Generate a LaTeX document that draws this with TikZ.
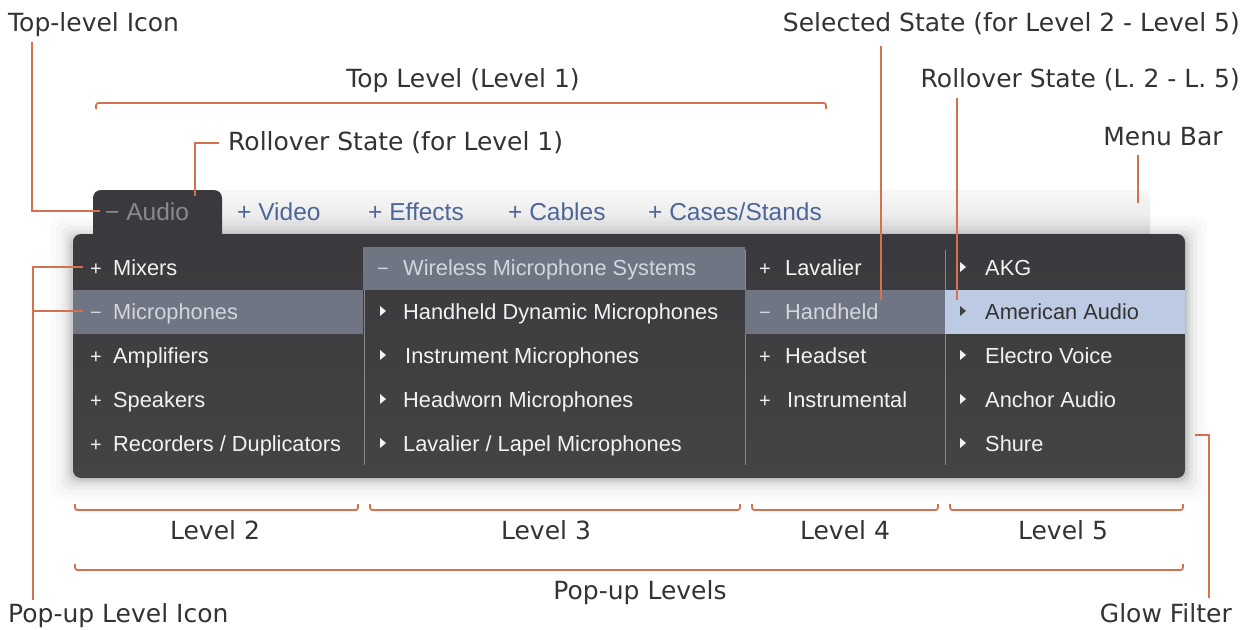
\documentclass[tikz,border=0pt]{standalone}
\usepackage{fontspec}
\newfontfamily\lblfont{DejaVu Sans}
\newfontfamily\menufont{Liberation Sans}
\definecolor{annot}{HTML}{D4714E}
\definecolor{lbltext}{HTML}{333333}
\definecolor{panel}{HTML}{3A3A3E}
\definecolor{panelbot}{HTML}{444446}
\definecolor{hlgray}{HTML}{6F7582}
\definecolor{hlblue}{HTML}{BCCBE3}
\definecolor{tabblue}{HTML}{4D6699}
\definecolor{itemtext}{HTML}{F2F2F2}
\definecolor{seltext}{HTML}{D2D6DE}
\definecolor{audiotext}{HTML}{8A8A8E}
\tikzset{
  lbl/.style={font=\lblfont\fontsize{25}{29}\selectfont, text=lbltext, inner sep=0pt},
  tabitem/.style={font=\menufont\fontsize{24.5}{28}\selectfont, text=tabblue, inner sep=0pt, anchor=base west},
  item/.style={font=\menufont\fontsize{21.8}{25}\selectfont, text=itemtext, inner sep=0pt, anchor=base west},
  selitem/.style={item, text=seltext},
  darkitem/.style={item, text=black!80},
  mk/.style={font=\menufont\fontsize{20}{24}\selectfont, text=itemtext, inner sep=0pt, anchor=base},
  conn/.style={draw=annot, line width=1.8pt},
  brk/.style={draw=annot, line width=1.8pt},
  sep/.style={draw=white!40!panel, line width=0.8pt},
}
\newcommand{\tri}[3]{\fill[#3] (#1-3,#2-5) -- (#1+3,#2) -- (#1-3,#2+5) -- cycle;}
\begin{document}
\begin{tikzpicture}[x=1pt,y=-1pt]
\useasboundingbox (0,0) rectangle (1257,629);
\fill[white] (0,0) rectangle (1257,629);

% menu bar band
\shade[top color=gray!6, bottom color=gray!22, rounded corners=6pt] (215,190) rectangle (1150,240);
% glow around panel
\foreach \g/\o in {22/0.015,17/0.02,12/0.03,8/0.04,5/0.05,3/0.06}{
  \fill[black, opacity=\o, rounded corners=10pt] (73-\g,234-\g+4) rectangle (1185+\g,478+\g);
}
% tab and panel
\fill[panel, rounded corners=8pt] (93,235) -- (93,190) -- (222,190) -- (222,245) -- (93,245) -- cycle;
\shade[top color=panel, bottom color=panelbot, rounded corners=8pt] (73,234) rectangle (1185,478);

% highlight bands
\fill[hlgray] (363,247) rectangle (745,290);
\fill[hlgray] (73,290) rectangle (363,334);
\fill[hlgray] (745,290) rectangle (945,334);
\fill[hlblue] (945,290) rectangle (1185,334);

% separators
\draw[sep] (364,290) -- (364,465);
\draw[sep] (745,250) -- (745,290) (745,334) -- (745,465);
\draw[sep] (945,250) -- (945,290) (945,334) -- (945,465);

% tabs
\node[tabitem, text=audiotext] (audio) at (105,220) {\textminus\ Audio};
\node[tabitem] (video) at (237,220) {+ Video};
\node[tabitem] (effects) at (368,220) {+ Effects};
\node[tabitem] (cables) at (508,220) {+ Cables};
\node[tabitem] (cases) at (648,220) {+ Cases/Stands};

% column 1
\node[mk] (m11) at (96,275) {+};
\node[item] (mixers) at (113,275) {Mixers};
\node[mk, text=seltext] (m12) at (96,319) {\textminus};
\node[selitem] (micro) at (113,319) {Microphones};
\node[mk] (m13) at (96,363) {+};
\node[item] (amps) at (113,363) {Amplifiers};
\node[mk] (m14) at (96,407) {+};
\node[item] (speak) at (113,407) {Speakers};
\node[mk] (m15) at (96,451) {+};
\node[item] (recs) at (113,451) {Recorders / Duplicators};

% column 2
\node[mk, text=seltext] (m21) at (383,275) {\textminus};
\node[selitem] (wireless) at (403,275) {Wireless Microphone Systems};
\tri{383}{311}{itemtext}
\node[item] (hdm) at (403,319) {Handheld Dynamic Microphones};
\tri{383}{355}{itemtext}
\node[item] (inst) at (405,363) {Instrument Microphones};
\tri{383}{399}{itemtext}
\node[item] (head) at (403,407) {Headworn Microphones};
\tri{383}{443}{itemtext}
\node[item] (lav) at (403,451) {Lavalier / Lapel Microphones};

% column 3
\node[mk] (m31) at (765,275) {+};
\node[item] (lavalier) at (785,275) {Lavalier};
\node[mk, text=seltext] (m32) at (765,319) {\textminus};
\node[selitem] (handheld) at (785,319) {Handheld};
\node[mk] (m33) at (765,363) {+};
\node[item] (headset) at (785,363) {Headset};
\node[mk] (m34) at (765,407) {+};
\node[item] (instr) at (787,407) {Instrumental};

% column 4
\tri{963}{267}{itemtext}
\node[item] (akg) at (985,275) {AKG};
\tri{963}{311}{black!75}
\node[darkitem] (amer) at (985,319) {American Audio};
\tri{963}{355}{itemtext}
\node[item] (ev) at (985,363) {Electro Voice};
\tri{963}{399}{itemtext}
\node[item] (anchor) at (985,407) {Anchor Audio};
\tri{963}{443}{itemtext}
\node[item] (shure) at (985,451) {Shure};

% labels
\node[lbl, anchor=base west] (ltop) at (8,31) {Top-level Icon};
\node[lbl, anchor=base] (llev1) at (463,87) {Top Level (Level 1)};
\node[lbl, anchor=base west] (lroll1) at (228,150) {Rollover State (for Level 1)};
\node[lbl, anchor=base east] (lsel) at (1240,31) {Selected State (for Level 2 - Level 5)};
\node[lbl, anchor=base east] (lroll2) at (1240,87) {Rollover State (L. 2 - L. 5)};
\node[lbl, anchor=base] (lmenubar) at (1163,145) {Menu Bar};
\node[lbl, anchor=base] (l2) at (215,539) {Level 2};
\node[lbl, anchor=base] (l3) at (546,539) {Level 3};
\node[lbl, anchor=base] (l4) at (845,539) {Level 4};
\node[lbl, anchor=base] (l5) at (1063,539) {Level 5};
\node[lbl, anchor=base] (lpop) at (640,599) {Pop-up Levels};
\node[lbl, anchor=base west] (lpopicon) at (8,622) {Pop-up Level Icon};
\node[lbl, anchor=base east] (lglow) at (1232,622) {Glow Filter};

% connectors
\coordinate (c1a) at (32,42);
\coordinate (c1b) at (100,211);
\draw[conn] (c1a) |- (c1b);
\coordinate (c2a) at (219,143);
\coordinate (c2b) at (195,196);
\draw[conn] (c2a) -| (c2b);
\coordinate (c3a) at (881,46);
\coordinate (c3b) at (881,300);
\draw[conn] (c3a) -- (c3b);
\coordinate (c4a) at (957,98);
\coordinate (c4b) at (957,300);
\draw[conn] (c4a) -- (c4b);
\coordinate (c5a) at (1138,155);
\coordinate (c5b) at (1138,203);
\draw[conn] (c5a) -- (c5b);
\coordinate (c6a) at (33,600);
\coordinate (c6b) at (83,267);
\coordinate (c6c) at (83,311);
\draw[conn] (c6a) |- (c6b);
\draw[conn] (c6c) -| (33,311);
\coordinate (c7a) at (1209,598);
\coordinate (c7b) at (1195,435);
\draw[conn] (c7a) |- (c7b);

% brackets
\draw[brk] (96,109) .. controls (96,103) .. (101,103) -- (821,103) .. controls (826,103) .. (826,109);
\draw[brk] (75,504) .. controls (75,510) .. (80,510) -- (353,510) .. controls (358,510) .. (358,504);
\draw[brk] (370,504) .. controls (370,510) .. (375,510) -- (735,510) .. controls (740,510) .. (740,504);
\draw[brk] (752,504) .. controls (752,510) .. (757,510) -- (933,510) .. controls (938,510) .. (938,504);
\draw[brk] (950,504) .. controls (950,510) .. (955,510) -- (1178,510) .. controls (1183,510) .. (1183,504);
\draw[brk] (75,564) .. controls (75,570) .. (80,570) -- (1178,570) .. controls (1183,570) .. (1183,564);
\end{tikzpicture}
\end{document}
